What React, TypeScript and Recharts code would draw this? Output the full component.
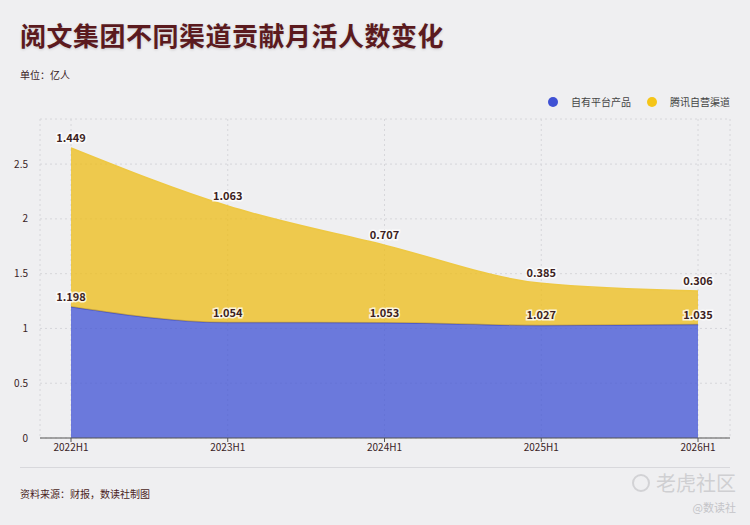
import React from "react";
import {
  AreaChart,
  Area,
  XAxis,
  YAxis,
  CartesianGrid,
  Legend,
  LabelList,
} from "recharts";

const periods = ["2022H1", "2023H1", "2024H1", "2025H1", "2026H1"];
const ownPlatform = [1.198, 1.054, 1.053, 1.027, 1.035];
const tencentChannel = [1.449, 1.063, 0.707, 0.385, 0.306];
const yTicks = [0, 0.5, 1, 1.5, 2, 2.5];
const seriesNames = ["自有平台产品", "腾讯自营渠道"];
const legendColors = ["#3f51d4", "#f5c518"];

const data = periods.map((p, i) => ({
  period: p,
  own: ownPlatform[i],
  tencent: tencentChannel[i],
}));

const yMax = Math.max(...ownPlatform.map((v, i) => v + tencentChannel[i])) * 1.1;

const font = "'Noto Sans CJK SC', 'Noto Sans', sans-serif";

const ValueLabel = (props: any) => {
  const { x, y, value } = props;
  return (
    <text
      x={x}
      y={y - 6}
      textAnchor="middle"
      fontSize={11}
      fontWeight={700}
      fontFamily={font}
      fill="#3d1f22"
      stroke="#ffffff"
      strokeWidth={3}
      strokeOpacity={0.8}
      paintOrder="stroke"
    >
      {Number(value).toFixed(3)}
    </text>
  );
};

const LegendContent = () => (
  <div
    style={{
      display: "flex",
      alignItems: "center",
      height: 15,
      fontSize: 10,
      color: "#444",
    }}
  >
    {seriesNames.map((name, i) => (
      <span key={name} style={{ display: "flex", alignItems: "center", marginLeft: i ? 16 : 0 }}>
        <span
          style={{
            width: 10,
            height: 10,
            borderRadius: 5,
            background: legendColors[i],
            display: "inline-block",
            marginRight: 13,
          }}
        />
        {name}
      </span>
    ))}
  </div>
);

export default function App() {
  return (
    <div
      style={{
        position: "absolute",
        left: 0,
        top: 0,
        width: 750,
        height: 525,
        background: "#efeff1",
        fontFamily: font,
        overflow: "hidden",
      }}
    >
      <div
        style={{
          position: "absolute",
          left: 20,
          top: 16,
          fontSize: 26,
          fontWeight: 700,
          color: "#5b1a1e",
          textShadow: "0 1px 3px rgba(0,0,0,0.15)",
          letterSpacing: 0.5,
        }}
      >
        阅文集团不同渠道贡献月活人数变化
      </div>
      <div
        style={{
          position: "absolute",
          left: 20,
          top: 67,
          fontSize: 10,
          color: "#3a2326",
        }}
      >
        单位：亿人
      </div>

      <AreaChart
        width={750}
        height={525}
        data={data}
        margin={{ top: 104, right: 20, bottom: 57, left: 0 }}
        style={{ position: "absolute", left: 0, top: 0 }}
      >
        <CartesianGrid stroke="#d6d6da" strokeDasharray="2 3" vertical={true} />
        <XAxis
          dataKey="period"
          padding={{ left: 31, right: 32 }}
          tick={{ fontSize: 10, fill: "#3a2326", fontFamily: font }}
          tickLine={{ stroke: "#555" }}
          tickSize={4}
          axisLine={{ stroke: "#555" }}
          interval={0}
        />
        <YAxis
          width={40}
          domain={[0, yMax]}
          allowDataOverflow
          ticks={yTicks}
          axisLine={false}
          tickLine={false}
          tick={{ fontSize: 10, fill: "#3a2326", fontFamily: font }}
          tickMargin={6}
        />
        <Legend
          verticalAlign="top"
          align="right"
          content={<LegendContent />}
          wrapperStyle={{ top: 94, right: 20, width: "auto", left: "auto" }}
        />
        <Area
          type="monotone"
          dataKey="own"
          stackId="a"
          name={seriesNames[0]}
          stroke="#4a56c4"
          strokeWidth={1.5}
          fill="#3f51d4"
          fillOpacity={0.75}
          isAnimationActive={false}
        >
          <LabelList dataKey="own" content={<ValueLabel />} />
        </Area>
        <Area
          type="monotone"
          dataKey="tencent"
          stackId="a"
          name={seriesNames[1]}
          stroke="#eec843"
          strokeWidth={1.5}
          fill="#eebc15"
          fillOpacity={0.75}
          isAnimationActive={false}
        >
          <LabelList dataKey="tencent" content={<ValueLabel />} />
        </Area>
      </AreaChart>

      <div
        style={{
          position: "absolute",
          left: 20,
          top: 467,
          width: 710,
          height: 1,
          background: "#d8d8dc",
        }}
      />
      <div
        style={{
          position: "absolute",
          left: 20,
          top: 486,
          fontSize: 10,
          color: "#4a1e22",
        }}
      >
        资料来源：财报，数读社制图
      </div>
      <div
        style={{
          position: "absolute",
          right: 14,
          top: 468,
          fontSize: 20,
          color: "#cfcfd2",
          display: "flex",
          alignItems: "center",
          gap: 6,
        }}
      >
        <span
          style={{
            display: "inline-block",
            width: 18,
            height: 18,
            borderRadius: 9,
            border: "2px solid #d2d2d5",
            boxSizing: "border-box",
          }}
        />
        老虎社区
      </div>
      <div
        style={{
          position: "absolute",
          right: 14,
          top: 499,
          fontSize: 11,
          color: "#c4c4c8",
        }}
      >
        @数读社
      </div>
    </div>
  );
}
